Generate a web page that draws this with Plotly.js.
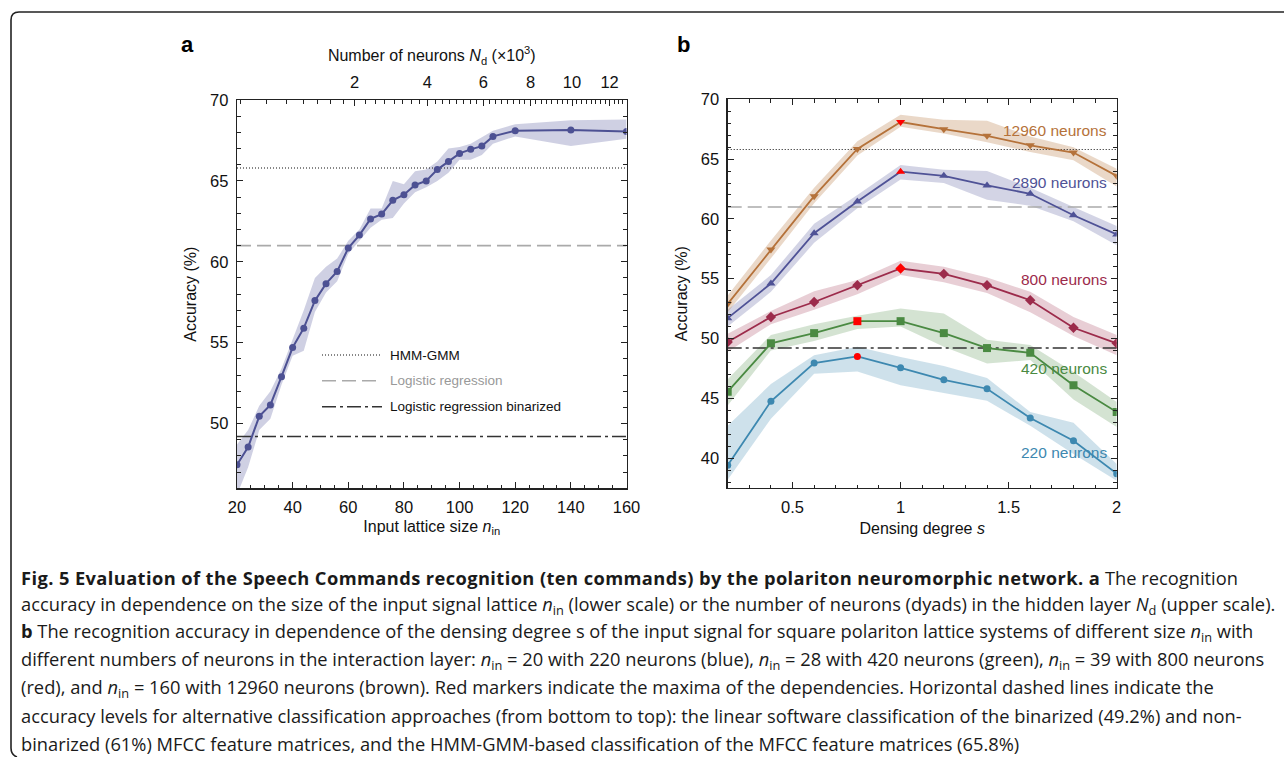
<!DOCTYPE html>
<html>
<head>
<meta charset="utf-8">
<script src="https://cdn.plot.ly/plotly-3.0.1.min.js"></script>
<style>html,body{margin:0;padding:0;background:#fff;}#chart{width:1284px;height:757px;}</style>
</head>
<body>
<div id="chart"></div>
<script>
// ---------- Panel a data ----------
const nIn = [20,24,28,32,36,40,44,48,52,56,60,64,68,72,76,80,84,88,92,96,100,104,108,112,120,140,160];
const accA = [47.45,48.55,50.45,51.15,52.9,54.7,55.9,57.6,58.65,59.4,60.85,61.65,62.65,62.95,63.8,64.15,64.75,65.0,65.7,66.2,66.7,66.95,67.15,67.75,68.1,68.15,68.05];
const upperA = [48.7,49.6,51.1,52.0,53.4,55.2,57.0,59.0,59.7,60.2,61.3,62.0,63.3,63.3,65.0,64.8,65.6,65.7,66.2,67.0,67.1,67.3,67.7,68.1,68.5,68.75,68.8];
const lowerA = [45.6,47.3,49.6,50.3,52.4,54.2,54.5,56.9,58.1,58.8,60.5,61.3,62.1,62.6,62.7,63.6,64.3,64.6,65.0,65.5,66.3,66.3,66.6,67.3,67.75,67.15,67.6];
// top axis: number of neurons (x10^3), N = n(n+2)/2
const neuronTickK = [2,4,6,8,10,12];
const neuronMinorStep = 250;
const neuronMax = 12960;

// ---------- Panel b data ----------
const sVals = [0.2,0.4,0.6,0.8,1.0,1.2,1.4,1.6,1.8,2.0];
const acc220 = [39.4,44.75,47.95,48.5,47.55,46.55,45.8,43.35,41.45,38.7];
const up220  = [42.7,46.2,48.6,49.3,48.45,47.7,46.7,43.85,42.95,39.5];
const lo220  = [38.2,43.3,47.05,47.25,46.1,45.45,44.8,42.7,40.35,38.1];
const acc420 = [45.55,49.6,50.45,51.45,51.45,50.45,49.2,48.8,46.1,43.85];
const up420  = [46.6,50.3,51.2,51.9,52.5,52.1,49.9,49.45,47.2,44.7];
const lo420  = [44.4,49.0,49.8,50.8,51.0,49.3,47.9,48.2,44.9,42.6];
const acc800 = [49.7,51.8,53.05,54.45,55.85,55.4,54.45,53.2,50.9,49.6];
const up800  = [50.4,52.3,53.95,54.9,56.5,56.0,55.1,53.9,51.8,50.3];
const lo800  = [48.9,51.2,52.4,53.7,55.3,54.7,53.8,52.2,50.2,48.6];
const acc2890 = [51.7,54.6,58.8,61.45,63.95,63.6,62.8,62.1,60.3,58.7];
const up2890  = [52.4,55.3,59.6,62.0,64.5,64.1,64.0,62.6,61.0,59.4];
const lo2890  = [51.0,53.9,58.0,60.9,63.3,63.0,61.6,61.1,59.8,57.8];
const acc12960 = [52.9,57.45,61.9,65.85,68.1,67.5,66.95,66.15,65.55,63.6];
const up12960  = [53.6,58.2,62.6,66.5,68.7,68.3,68.2,66.9,66.0,64.2];
const lo12960  = [52.2,56.7,61.3,65.3,67.7,67.15,66.4,65.6,64.9,62.7];
const seriesNames = ['220 neurons','420 neurons','800 neurons','2890 neurons','12960 neurons'];
const peakIndex = [3,3,4,4,4];

// reference levels
const levelHMM = 65.8, levelLR = 61, levelLRbin = 49.2;
const refNames = ['HMM-GMM','Logistic regression','Logistic regression binarized'];

// ---------- layout helpers ----------
const W = 1284, H = 757;
const px = x => x / W;
const py = y => 1 - y / H;
const FONT = 'Liberation Sans, Arial, Helvetica, sans-serif';
const CAP = 'Open Sans, Noto Sans, sans-serif';
const xRangeA = [20,160], yRangeA = [46,70];
const xRangeB = [0.2,2], yRangeB = [37.5,70];

const colA = '#4d5193';
const cols = ['#3d88b0','#4a8a42','#9c2b4b','#4f5296','#b5723a'];
const bandCols = ['rgba(61,136,176,0.25)','rgba(74,138,66,0.24)','rgba(156,43,75,0.23)','rgba(79,82,150,0.25)','rgba(181,114,58,0.28)'];
const symbols = ['circle','square','diamond','triangle-up','triangle-down'];
const msizes = [7,8,8,8,8];

const nFromN = N => -1 + Math.sqrt(1 + 2 * N);
const majorN = neuronTickK.map(k => k * 1000);
const minorN = [];
for (let N = neuronMinorStep; N <= neuronMax; N += neuronMinorStep) {
  if (nFromN(N) >= xRangeA[0] && majorN.indexOf(N) < 0) minorN.push(N);
}

const traces = [];
// panel a band
traces.push({x: nIn, y: lowerA, mode:'lines', line:{width:0, color:colA}, hoverinfo:'skip', showlegend:false, xaxis:'x', yaxis:'y'});
traces.push({x: nIn, y: upperA, mode:'lines', line:{width:0, color:colA}, fill:'tonexty', fillcolor:'rgba(79,82,150,0.27)', hoverinfo:'skip', showlegend:false, xaxis:'x', yaxis:'y'});
// reference lines panel a & b
const refLevels = [levelHMM, levelLR, levelLRbin];
const refStyles = [
  {color:'#111', width:1.1, dash:'1px,2px'},
  {color:'#aaaaaa', width:1.6, dash:'14px,6px'},
  {color:'#333', width:1.4, dash:'14px,4px,3px,4px'}
];
refLevels.forEach((lv,i) => {
  traces.push({x: xRangeA, y: [lv,lv], mode:'lines', line:refStyles[i], name:refNames[i], hoverinfo:'skip', showlegend:false, xaxis:'x', yaxis:'y'});
});
traces.push({x: nIn, y: accA, mode:'lines+markers', line:{color:colA, width:2}, marker:{color:colA, size:7, symbol:'circle'}, name:'Accuracy', showlegend:false, xaxis:'x', yaxis:'y'});
// invisible trace to activate top axis
traces.push({x: nIn, y: accA, mode:'none', hoverinfo:'skip', showlegend:false, xaxis:'x2', yaxis:'y'});

// panel b
const accs = [acc220, acc420, acc800, acc2890, acc12960];
const ups = [up220, up420, up800, up2890, up12960];
const los = [lo220, lo420, lo800, lo2890, lo12960];
for (let i = 0; i < accs.length; i++) {
  traces.push({x: sVals, y: los[i], mode:'lines', line:{width:0, color:cols[i]}, hoverinfo:'skip', showlegend:false, xaxis:'x3', yaxis:'y3'});
  traces.push({x: sVals, y: ups[i], mode:'lines', line:{width:0, color:cols[i]}, fill:'tonexty', fillcolor:bandCols[i], hoverinfo:'skip', showlegend:false, xaxis:'x3', yaxis:'y3'});
}
refLevels.forEach((lv,i) => {
  traces.push({x: xRangeB, y: [lv,lv], mode:'lines', line:refStyles[i], name:refNames[i], hoverinfo:'skip', showlegend:false, xaxis:'x3', yaxis:'y3'});
});
for (let i = 0; i < accs.length; i++) {
  const mc = accs[i].map((v,j) => j === peakIndex[i] ? '#ff0000' : cols[i]);
  traces.push({x: sVals, y: accs[i], mode:'lines+markers', name: seriesNames[i], line:{color:cols[i], width:1.8},
    marker:{color: mc, size: msizes[i], symbol: symbols[i], line:{width:0}}, showlegend:false, xaxis:'x3', yaxis:'y3'});
}

const axBase = {showline:true, linecolor:'#222', linewidth:1.3, ticks:'inside', ticklen:6, tickwidth:1, tickcolor:'#222',
  showgrid:false, zeroline:false, tickfont:{family:FONT, size:16.5, color:'#111'}, ticklabelstandoff:4, automargin:false, fixedrange:true};
const minorBase = {ticks:'inside', ticklen:3.5, tickwidth:1, tickcolor:'#222', showgrid:false};
const titleFont = {family:FONT, size:16, color:'#111'};

const layout = {
  width: W, height: H,
  margin: {l:0, r:0, t:0, b:0, pad:0},
  paper_bgcolor:'#fff', plot_bgcolor:'rgba(0,0,0,0)',
  showlegend:false,
  xaxis: Object.assign({}, axBase, {domain:[px(237), px(626.5)], anchor:'y', range:xRangeA, tick0:0, dtick:20, mirror:true,
    minor: Object.assign({}, minorBase, {dtick:5, tick0:0}),
    title:{text:'Input lattice size <i>n</i><sub>in</sub>', font:titleFont, standoff:5}}),
  xaxis2: Object.assign({}, axBase, {overlaying:'x', side:'top', anchor:'y', range:xRangeA, tickmode:'array',
    tickvals: majorN.map(nFromN), ticktext: neuronTickK.map(String),
    minor: Object.assign({}, minorBase, {tickmode:'array', tickvals: minorN.map(nFromN)}),
    title:{text:'Number of neurons <i>N</i><sub>d</sub> (×10<sup>3</sup>)', font:titleFont, standoff:7}}),
  yaxis: Object.assign({}, axBase, {domain:[py(488.3), py(100)], anchor:'x', range:yRangeA, tick0:0, dtick:5, mirror:'ticks',
    minor: Object.assign({}, minorBase, {dtick:1, tick0:0}),
    title:{text:'Accuracy (%)', font:titleFont, standoff:9}}),
  xaxis3: Object.assign({}, axBase, {domain:[px(727.7), px(1116.7)], anchor:'y3', range:xRangeB, tick0:0, dtick:0.5, mirror:'ticks',
    minor: Object.assign({}, minorBase, {dtick:0.1, tick0:0}),
    title:{text:'Densing degree <i>s</i>', font:titleFont, standoff:7}}),
  yaxis3: Object.assign({}, axBase, {domain:[py(488), py(99.3)], anchor:'x3', range:yRangeB, tick0:0, dtick:5, mirror:'ticks',
    minor: Object.assign({}, minorBase, {dtick:1, tick0:0}),
    title:{text:'Accuracy (%)', font:titleFont, standoff:9}}),
  shapes: [],
  annotations: []
};

// border
layout.shapes.push({type:'path', xref:'paper', yref:'paper', layer:'above',
  path: 'M' + px(11) + ',' + py(748) + ' L' + px(11) + ',' + py(20) + ' Q' + px(11) + ',' + py(12) + ' ' + px(19) + ',' + py(12) + ' L' + px(1284) + ',' + py(12),
  line:{color:'#222', width:1.6}});
layout.shapes.push({type:'path', xref:'paper', yref:'paper', layer:'above',
  path: 'M' + px(11) + ',' + py(748) + ' Q' + px(11) + ',' + py(755) + ' ' + px(17) + ',' + py(757),
  line:{color:'#222', width:1.6}});

// legend of panel a (manual)
const legY = [355, 380.7, 406.7];
const legTextCol = ['#111','#999999','#111'];
refNames.forEach((nm,i) => {
  layout.shapes.push({type:'line', xref:'paper', yref:'paper', x0:px(322), x1:px(382), y0:py(legY[i]), y1:py(legY[i]),
    line:{color:refStyles[i].color, width:refStyles[i].width, dash:refStyles[i].dash}});
  layout.annotations.push({xref:'paper', yref:'paper', x:px(388), y:py(legY[i]), xanchor:'left', yanchor:'middle', showarrow:false,
    text:nm, font:{family:FONT, size:13.5, color:legTextCol[i]}});
});

// series labels panel b
const labelY = [40.45, 47.5, 54.9, 63.05, 67.4];
seriesNames.forEach((nm,i) => {
  layout.annotations.push({xref:'x3', yref:'y3', x:1.965, y:labelY[i], xanchor:'right', yanchor:'middle', showarrow:false,
    text:nm, font:{family:FONT, size:15.5, color:cols[i]}});
});

// panel letters
layout.annotations.push({xref:'paper', yref:'paper', x:px(188), y:py(44), xanchor:'center', yanchor:'middle', showarrow:false,
  text:'<b>a</b>', font:{family:FONT, size:22, color:'#000'}});
layout.annotations.push({xref:'paper', yref:'paper', x:px(683), y:py(44), xanchor:'center', yanchor:'middle', showarrow:false,
  text:'<b>b</b>', font:{family:FONT, size:22, color:'#000'}});

// caption
const nin = '<i>n</i><sub>in</sub>';
const captionLines = [
  '<span style="letter-spacing:0.4px"><b>Fig. 5 Evaluation of the Speech Commands recognition (ten commands) by the polariton neuromorphic network. a</b></span> The recognition',
  'accuracy in dependence on the size of the input signal lattice ' + nin + ' (lower scale) or the number of neurons (dyads) in the hidden layer <i>N</i><sub>d</sub> (upper scale).',
  '<b>b</b> The recognition accuracy in dependence of the densing degree s of the input signal for square polariton lattice systems of different size ' + nin + ' with',
  'different numbers of neurons in the interaction layer: ' + nin + ' = 20 with 220 neurons (blue), ' + nin + ' = 28 with 420 neurons (green), ' + nin + ' = 39 with 800 neurons',
  '(red), and ' + nin + ' = 160 with 12960 neurons (brown). Red markers indicate the maxima of the dependencies. Horizontal dashed lines indicate the',
  'accuracy levels for alternative classification approaches (from bottom to top): the linear software classification of the binarized (49.2%) and non-',
  'binarized (61%) MFCC feature matrices, and the HMM-GMM-based classification of the MFCC feature matrices (65.8%)'
];
captionLines.forEach((t,i) => {
  layout.annotations.push({xref:'paper', yref:'paper', x:px(19), y:py(577 + i*27.7), xanchor:'left', yanchor:'middle', showarrow:false,
    text:t, font:{family:CAP, size:18.3, color:'#1a1a1a'}});
});

Plotly.newPlot('chart', traces, layout, {displayModeBar:false, staticPlot:true});
</script>
</body>
</html>
